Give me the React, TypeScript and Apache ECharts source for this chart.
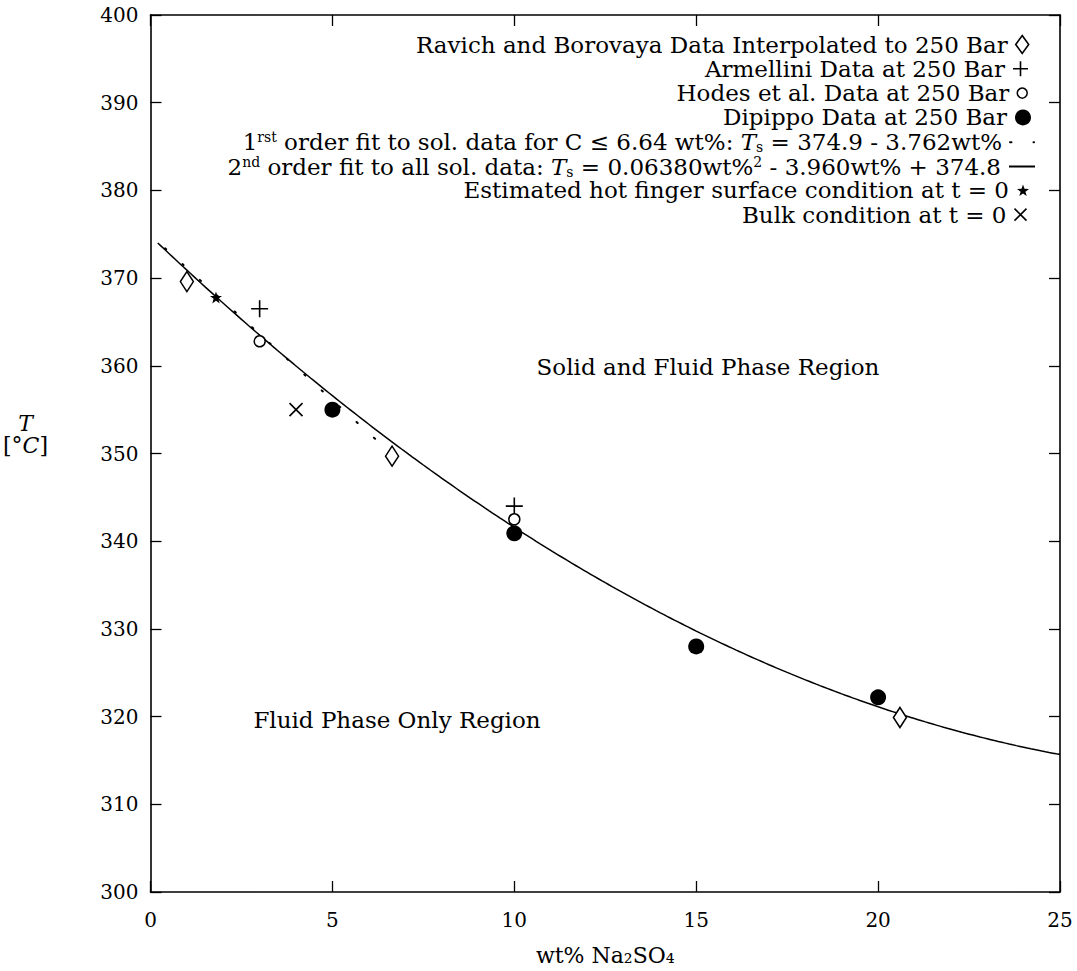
import { useEffect, useRef } from "react";
import * as echarts from "echarts";

// Measured solubility points, [wt% Na2SO4, T in °C]
const ravich = [[1.0, 369.6], [6.64, 349.7], [20.6, 319.9]];
const armellini = [[3.0, 366.5], [10.0, 344.0]];
const hodes = [[3.0, 362.8], [10.0, 342.5]];
const dipippo = [[5.0, 355.0], [10.0, 340.9], [15.0, 328.0], [20.0, 322.2]];
const hotFinger = [[1.8, 367.8]];
const bulk = [[4.0, 355.0]];

// Fit coefficients: T = c0 + c1*w + c2*w^2, and the wt% span each fit covers
const linearFit = [374.9, -3.762];
const linearSpan = [0.4, 6.64];
const quadFit = [374.8, -3.96, 0.0638];
const quadSpan = [0.2, 25];

// Axis ranges: [min, max, interval]
const xAxisTicks = [0, 25, 5];
const yAxisTicks = [300, 400, 10];

const NAMES = {
  ravich: "Ravich and Borovaya Data Interpolated to 250 Bar",
  armellini: "Armellini Data at 250 Bar",
  hodes: "Hodes et al. Data at 250 Bar",
  dipippo: "Dipippo Data at 250 Bar",
  fit1: "1rst order fit to sol. data for C ≤ 6.64 wt%: Ts = 374.9 - 3.762wt%",
  fit2: "2nd order fit to all sol. data: Ts = 0.06380wt%2 - 3.960wt% + 374.8",
  hot: "Estimated hot finger surface condition at t = 0",
  bulk: "Bulk condition at t = 0",
};

const RICH_LABELS: Record<string, string> = {
  [NAMES.fit1]:
    "{n|1}{sup|rst}{n| order fit to sol. data for C ≤ 6.64 wt%: }{it|T}{sub|s}{n| = 374.9 - 3.762wt%}",
  [NAMES.fit2]:
    "{n|2}{sup|nd}{n| order fit to all sol. data: }{it|T}{sub|s}{n| = 0.06380wt%}{sup|2}{n| - 3.960wt% + 374.8}",
};

const FONT = "'DejaVu Serif', 'Liberation Serif', serif";
const FS = 23; // legend and region captions
const TICK_FS = 20;

function evalPoly(c: number[], w: number) {
  return c.reduce((acc, ci, i) => acc + ci * Math.pow(w, i), 0);
}

function sampleFit(c: number[], span: number[], step: number) {
  const pts: number[][] = [];
  for (let w = span[0]; w < span[1] - 1e-9; w += step) pts.push([w, evalPoly(c, w)]);
  pts.push([span[1], evalPoly(c, span[1])]);
  return pts;
}

const PLUS = "path://M0,6L12,6M6,0L6,12";
const CROSS = "path://M0,0L10,10M10,0L0,10";
const STAR =
  "path://M5,0L6.18,3.38L9.76,3.45L6.9,5.62L7.94,9.05L5,7L2.06,9.05L3.1,5.62L0.24,3.45L3.82,3.38Z";

const rich = {
  n: { fontFamily: FONT, fontSize: FS, color: "#000", lineHeight: 24 },
  it: { fontFamily: FONT, fontSize: FS, fontStyle: "italic", color: "#000", lineHeight: 24 },
  sup: { fontFamily: FONT, fontSize: 14, color: "#000", verticalAlign: "top", lineHeight: 24 },
  sub: { fontFamily: FONT, fontSize: 14, color: "#000", verticalAlign: "bottom", lineHeight: 24 },
};

const nameRich = {
  n: { fontFamily: FONT, fontSize: 22, color: "#000", lineHeight: 22 },
  it: { fontFamily: FONT, fontSize: 22, fontStyle: "italic", color: "#000", lineHeight: 22 },
};

export default function App() {
  const ref = useRef<HTMLDivElement>(null);

  useEffect(() => {
    if (!ref.current) return;
    const chart = echarts.init(ref.current, undefined, { renderer: "svg" });

    const black = "#000";
    const axisBase = {
      type: "value" as const,
      axisLine: { show: true, onZero: false, lineStyle: { color: black, width: 1.6 } },
      axisTick: { show: true, inside: true, length: 11, lineStyle: { color: black, width: 1.3 } },
      splitLine: { show: false },
    };

    // Legend rows: centre y of each row; icons share one centre column
    const rowY = [45, 69.3, 93.6, 117.9, 142.2, 166.5, 190.8, 215.1];
    const iconCx = 1023;
    const legendRow = (name: string, i: number, w: number, h: number, extra: any = {}) => ({
      data: [name],
      orient: "horizontal",
      align: "right",
      right: 1077 - iconCx - w / 2,
      top: rowY[i] - 12,
      itemWidth: w,
      itemHeight: h,
      itemGap: 0,
      padding: 0,
      selectedMode: false,
      formatter: (n: string) => RICH_LABELS[n] ?? `{n|${n}}`,
      textStyle: { fontFamily: FONT, fontSize: FS, color: black, padding: [0, 3, 0, 0], rich },
      ...extra,
    });
    const noSymbol = { itemStyle: { color: "rgba(0,0,0,0)", borderWidth: 0, opacity: 0 } };

    chart.setOption({
      animation: false,
      backgroundColor: "#fff",
      grid: { left: 150, right: 17, top: 15, bottom: 74, containLabel: false },
      xAxis: [
        {
          ...axisBase,
          position: "bottom",
          min: xAxisTicks[0],
          max: xAxisTicks[1],
          interval: xAxisTicks[2],
          name: "wt% Na₂SO₄",
          nameLocation: "middle",
          nameGap: 52,
          nameTextStyle: { fontFamily: FONT, fontSize: 22, color: black },
          axisLabel: { fontFamily: FONT, fontSize: TICK_FS, color: black, margin: 18 },
        },
        {
          ...axisBase,
          position: "top",
          min: xAxisTicks[0],
          max: xAxisTicks[1],
          interval: xAxisTicks[2],
          axisLabel: { show: false },
        },
      ],
      yAxis: [
        {
          ...axisBase,
          position: "left",
          min: yAxisTicks[0],
          max: yAxisTicks[1],
          interval: yAxisTicks[2],
          name: "{it|T}\n{n|[°}{it|C}{n|]}",
          nameLocation: "middle",
          nameRotate: 0,
          nameGap: 125,
          nameTextStyle: { align: "center", verticalAlign: "middle", padding: [0, 0, 38, 0], rich: nameRich },
          axisLabel: { fontFamily: FONT, fontSize: TICK_FS, color: black, margin: 12 },
        },
        {
          ...axisBase,
          position: "right",
          min: yAxisTicks[0],
          max: yAxisTicks[1],
          interval: yAxisTicks[2],
          axisLabel: { show: false },
        },
      ],
      legend: [
        legendRow(NAMES.ravich, 0, 13, 18, {
          itemStyle: { color: "#fff", borderColor: black, borderWidth: 1.6 },
        }),
        legendRow(NAMES.armellini, 1, 15, 15, {
          itemStyle: { color: "none", borderColor: black, borderWidth: 1.6 },
        }),
        legendRow(NAMES.hodes, 2, 10, 10, {
          itemStyle: { color: "#fff", borderColor: black, borderWidth: 1.5 },
        }),
        legendRow(NAMES.dipippo, 3, 16, 16, { itemStyle: { color: black, borderWidth: 0, opacity: 1 } }),
        legendRow(NAMES.fit1, 4, 24, 14, noSymbol),
        legendRow(NAMES.fit2, 5, 26, 14, noSymbol),
        legendRow(NAMES.hot, 6, 12, 12, { itemStyle: { color: black, borderWidth: 0, opacity: 1 } }),
        legendRow(NAMES.bulk, 7, 12, 12, {
          itemStyle: { color: "none", borderColor: black, borderWidth: 1.6 },
        }),
      ],
      graphic: [
        {
          type: "text",
          x: 708,
          y: 367,
          style: {
            text: "Solid and Fluid Phase Region",
            fontFamily: FONT,
            fontSize: FS,
            fill: black,
            align: "center",
            verticalAlign: "middle",
          },
        },
        {
          type: "text",
          x: 397,
          y: 720,
          style: {
            text: "Fluid Phase Only Region",
            fontFamily: FONT,
            fontSize: FS,
            fill: black,
            align: "center",
            verticalAlign: "middle",
          },
        },
      ],
      series: [
        {
          name: NAMES.fit2,
          type: "line",
          data: sampleFit(quadFit, quadSpan, 0.1),
          showSymbol: false,
          symbol: "none",
          itemStyle: { color: black },
          lineStyle: { color: black, width: 1.5 },
          z: 2,
        },
        {
          name: NAMES.fit1,
          type: "line",
          data: sampleFit(linearFit, linearSpan, 0.05),
          showSymbol: false,
          symbol: "none",
          itemStyle: { color: black },
          lineStyle: { color: black, width: 2, type: [1.5, 22], cap: "round" },
          z: 2,
        },
        {
          name: NAMES.ravich,
          type: "scatter",
          data: ravich,
          symbol: "diamond",
          symbolSize: [13, 20],
          itemStyle: { color: "#fff", borderColor: black, borderWidth: 1.6, opacity: 1 },
          z: 3,
        },
        {
          name: NAMES.armellini,
          type: "scatter",
          data: armellini,
          symbol: PLUS,
          symbolSize: 17,
          itemStyle: { color: "none", borderColor: black, borderWidth: 1.6, opacity: 1 },
          z: 3,
        },
        {
          name: NAMES.hodes,
          type: "scatter",
          data: hodes,
          symbol: "circle",
          symbolSize: 11,
          itemStyle: { color: "#fff", borderColor: black, borderWidth: 1.5, opacity: 1 },
          z: 4,
        },
        {
          name: NAMES.dipippo,
          type: "scatter",
          data: dipippo,
          symbol: "circle",
          symbolSize: 16,
          itemStyle: { color: black, opacity: 1 },
          z: 3,
        },
        {
          name: NAMES.hot,
          type: "scatter",
          data: hotFinger,
          symbol: STAR,
          symbolSize: 12,
          itemStyle: { color: black, opacity: 1 },
          z: 3,
        },
        {
          name: NAMES.bulk,
          type: "scatter",
          data: bulk,
          symbol: CROSS,
          symbolSize: 13,
          itemStyle: { color: "none", borderColor: black, borderWidth: 1.6, opacity: 1 },
          z: 3,
        },
      ],
    });

    return () => chart.dispose();
  }, []);

  return (
    <div
      ref={ref}
      style={{ position: "fixed", left: 0, top: 0, width: 1077, height: 971, background: "#fff" }}
    />
  );
}
